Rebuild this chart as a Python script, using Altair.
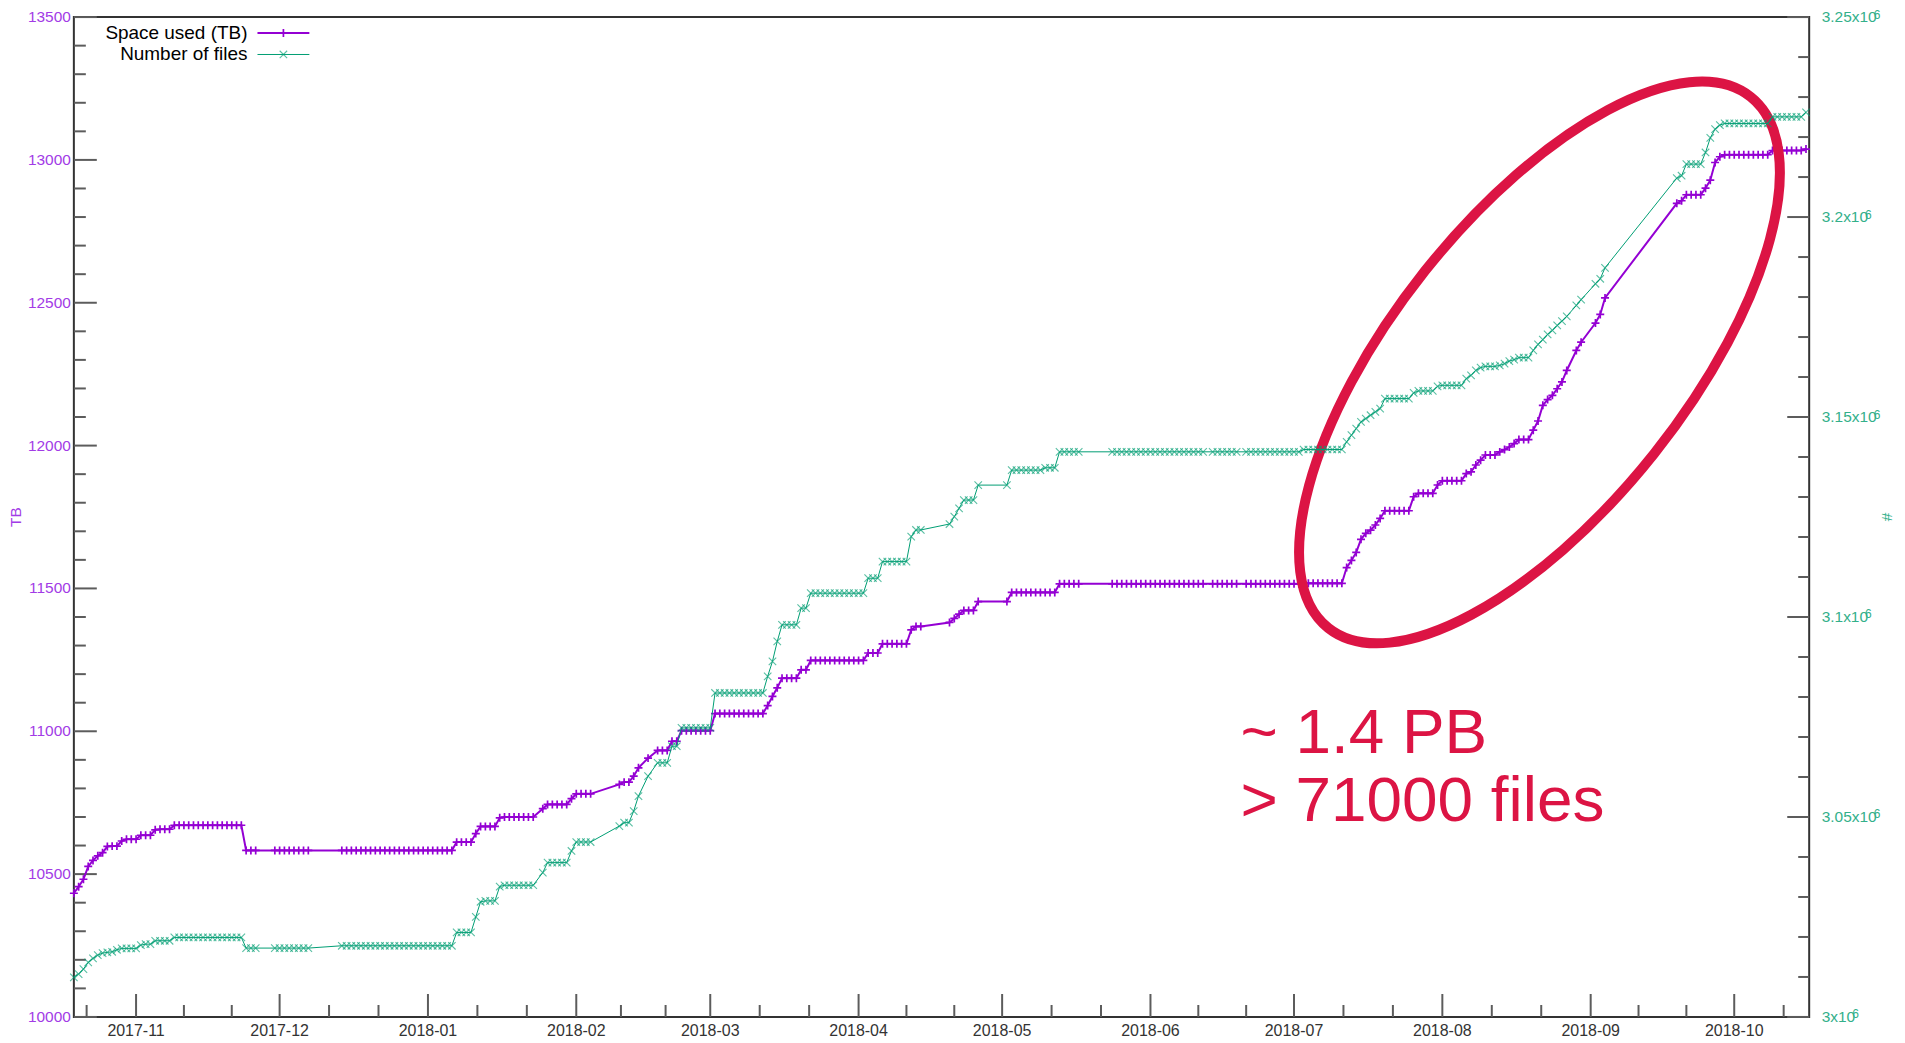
import altair as alt
import pandas as pd
from datetime import datetime, timedelta

# ---------------- data ----------------
START = datetime(2017, 10, 19)

# sample day, counted from 2017-10-19
days = [
    0, 1, 2, 3, 4, 5, 6, 7, 8, 9, 10, 11, 12, 13, 14, 15, 16, 17, 18, 19, 20,
    21, 22, 23, 24, 25, 26, 27, 28, 29, 30, 31, 32, 33, 34, 35,
    36, 37, 38, 42, 43, 44, 45, 46, 47, 48, 49,
    56, 57, 58, 59, 60, 61, 62, 63, 64, 65, 66, 67, 68, 69, 70, 71, 72, 73, 74, 75, 76, 77, 78, 79,
    80, 81, 82, 83, 84, 85, 86, 87, 88, 89, 90, 91, 92, 93, 94, 95, 96,
    98, 99, 100, 101, 102, 103, 104, 105, 106, 107, 108,
    114, 115, 116, 117, 118, 120, 122, 123, 124, 125, 126,
    127, 128, 129, 130, 131, 132, 133,
    134, 135, 136, 137, 138, 139, 140, 141, 142, 143, 144,
    145, 146, 147, 148, 149, 150, 151, 152, 153,
    154, 155, 156, 157, 158, 159, 160, 161, 162, 163, 164, 165,
    166, 167, 168, 169, 170, 171, 172, 173, 174,
    175, 176, 177, 183, 184, 185, 186, 187, 188, 189, 195,
    196, 197, 198, 199, 200, 201, 202, 203, 204, 205,
    206, 207, 208, 209, 210,
    217, 218, 219, 220, 221, 222, 223, 224, 225, 226, 227, 228, 229, 230, 231, 232, 233, 234, 235, 236,
    238, 239, 240, 241, 242, 243,
    245, 246, 247, 248, 249, 250, 251, 252, 253, 254, 255, 256,
    257, 258, 259, 260, 261, 262, 263, 264, 265,
    266, 267, 268, 269, 270, 271, 272, 273,
    274, 275, 276, 277, 278, 279,
    280, 281, 282, 283, 284, 285, 286, 287, 288, 289, 290,
    291, 292, 293, 294, 295, 296, 297, 298, 299, 300, 301, 302, 303, 304,
    305, 306, 307, 308, 309, 310, 311, 312, 314, 315, 318, 319, 320,
    335, 336, 337, 338, 339, 340, 341, 342, 343, 344,
    345, 346, 347, 348, 349, 350, 351, 352, 353, 354,
    355, 356, 357, 358, 359, 360, 361, 362,
]

# Space used (TB)
space_tb = [
    10433, 10456, 10482, 10527, 10548, 10564, 10575, 10597, 10598, 10598, 10616, 10622, 10622, 10622, 10636, 10636, 10636, 10655, 10657, 10657, 10657,
    10671, 10671, 10671, 10671, 10671, 10671, 10671, 10671, 10671, 10671, 10671, 10671, 10671, 10671, 10671,
    10583, 10583, 10583, 10583, 10583, 10583, 10583, 10583, 10583, 10583, 10583,
    10583, 10583, 10583, 10583, 10583, 10583, 10583, 10583, 10583, 10583, 10583, 10583, 10583, 10583, 10583, 10583, 10583, 10583, 10583, 10583, 10583, 10583, 10583, 10583,
    10612, 10612, 10612, 10612, 10642, 10667, 10667, 10667, 10667, 10697, 10700, 10700, 10700, 10700, 10700, 10700, 10700,
    10729, 10744, 10744, 10744, 10744, 10744, 10764, 10781, 10781, 10781, 10781,
    10814, 10822, 10822, 10843, 10872, 10906, 10933, 10933, 10933, 10965, 10965,
    11002, 11002, 11002, 11002, 11002, 11002, 11002,
    11062, 11062, 11062, 11062, 11062, 11062, 11062, 11062, 11062, 11062, 11062,
    11090, 11122, 11152, 11186, 11186, 11186, 11186, 11215, 11215,
    11248, 11248, 11248, 11248, 11248, 11248, 11248, 11248, 11248, 11248, 11248, 11248,
    11274, 11274, 11274, 11306, 11306, 11306, 11306, 11306, 11306,
    11355, 11367, 11367, 11381, 11395, 11410, 11423, 11423, 11423, 11454, 11454,
    11486, 11486, 11486, 11486, 11486, 11486, 11486, 11486, 11486, 11486,
    11516, 11516, 11516, 11516, 11516,
    11516, 11516, 11516, 11516, 11516, 11516, 11516, 11516, 11516, 11516, 11516, 11516, 11516, 11516, 11516, 11516, 11516, 11516, 11516, 11516,
    11516, 11516, 11516, 11516, 11516, 11516,
    11516, 11516, 11516, 11516, 11516, 11516, 11516, 11516, 11516, 11516, 11516, 11516,
    11518, 11518, 11518, 11518, 11518, 11518, 11518, 11518, 11518,
    11573, 11598, 11626, 11672, 11693, 11704, 11722, 11745,
    11772, 11772, 11772, 11772, 11772, 11772,
    11821, 11833, 11833, 11833, 11833, 11862, 11877, 11877, 11877, 11877, 11877,
    11902, 11908, 11932, 11949, 11967, 11967, 11967, 11978, 11986, 11995, 12007, 12021, 12021, 12021,
    12054, 12086, 12141, 12161, 12176, 12199, 12223, 12263, 12333, 12362, 12429, 12459, 12517,
    12848, 12857, 12878, 12878, 12878, 12878, 12901, 12929, 12991, 13011,
    13018, 13018, 13018, 13018, 13018, 13018, 13018, 13018, 13018, 13018,
    13033, 13033, 13033, 13033, 13033, 13033, 13033, 13038,
]

# Number of files
n_files = [
    3009900, 3010730, 3011980, 3013640, 3014640, 3015470, 3015970, 3016140, 3016300, 3016800, 3017140, 3017140, 3017140, 3017140, 3017960, 3018200, 3018200, 3019050, 3019050, 3019050, 3019050,
    3019880, 3019880, 3019880, 3019880, 3019880, 3019880, 3019880, 3019880, 3019880, 3019880, 3019880, 3019880, 3019880, 3019880, 3019880,
    3017220, 3017220, 3017220, 3017220, 3017220, 3017220, 3017220, 3017220, 3017220, 3017220, 3017220,
    3017800, 3017800, 3017800, 3017800, 3017800, 3017800, 3017800, 3017800, 3017800, 3017800, 3017800, 3017800, 3017800, 3017800, 3017800, 3017800, 3017800, 3017800, 3017800, 3017800, 3017800, 3017800, 3017800, 3017800,
    3021130, 3021130, 3021130, 3021130, 3025000, 3028800, 3029020, 3029020, 3029020, 3032600, 3032930, 3032930, 3032930, 3032930, 3032930, 3032930, 3032930,
    3036100, 3038590, 3038590, 3038590, 3038590, 3038590, 3041500, 3043740, 3043740, 3043740, 3043740,
    3047730, 3048580, 3048580, 3051480, 3055220, 3060210, 3063540, 3063540, 3063540, 3067690, 3067690,
    3072270, 3072270, 3072270, 3072270, 3072270, 3072270, 3072270,
    3081000, 3081000, 3081000, 3081000, 3081000, 3081000, 3081000, 3081000, 3081000, 3081000, 3081000,
    3085160, 3088900, 3093890, 3098050, 3098050, 3098050, 3098050, 3102220, 3102220,
    3105960, 3105960, 3105960, 3105960, 3105960, 3105960, 3105960, 3105960, 3105960, 3105960, 3105960, 3105960,
    3109700, 3109700, 3109700, 3113850, 3113850, 3113850, 3113850, 3113850, 3113850,
    3120100, 3121760, 3121760, 3123250, 3125080, 3127170, 3129240, 3129240, 3129240, 3132980, 3132980,
    3136730, 3136730, 3136730, 3136730, 3136730, 3136730, 3136730, 3137310, 3137310, 3137310,
    3141300, 3141300, 3141300, 3141300, 3141300,
    3141300, 3141300, 3141300, 3141300, 3141300, 3141300, 3141300, 3141300, 3141300, 3141300, 3141300, 3141300, 3141300, 3141300, 3141300, 3141300, 3141300, 3141300, 3141300, 3141300,
    3141300, 3141300, 3141300, 3141300, 3141300, 3141300,
    3141300, 3141300, 3141300, 3141300, 3141300, 3141300, 3141300, 3141300, 3141300, 3141300, 3141300, 3141300,
    3141880, 3141880, 3141880, 3141880, 3141880, 3141880, 3141880, 3141880, 3141880,
    3143780, 3145460, 3147120, 3148780, 3149620, 3150450, 3151300, 3152120,
    3154610, 3154610, 3154610, 3154610, 3154610, 3154610,
    3156020, 3156520, 3156520, 3156520, 3156520, 3157680, 3157930, 3157930, 3157930, 3157930, 3157930,
    3159600, 3160430, 3161680, 3162340, 3162670, 3162670, 3162670, 3162900, 3163340, 3164000, 3164340, 3164840, 3164840, 3164840,
    3166670, 3168170, 3169330, 3170660, 3171660, 3172910, 3173990, 3175160, 3177910, 3179330, 3183320, 3184570, 3187310,
    3209750, 3210330, 3213240, 3213240, 3213240, 3213240, 3216140, 3219800, 3222000, 3223000,
    3223400, 3223400, 3223400, 3223400, 3223400, 3223400, 3223400, 3223400, 3223400, 3223400,
    3225050, 3225050, 3225050, 3225050, 3225050, 3225050, 3225050, 3226200,
]

assert len(days) == len(space_tb) == len(n_files)

legend_labels = ["Space used (TB)", "Number of files"]
annotation_lines = ["~ 1.4 PB", "> 71000 files"]
left_title = "TB"
right_title = "#"

tb_major = [10000, 10500, 11000, 11500, 12000, 12500, 13000, 13500]
tb_minor = [v for v in range(10000, 13501, 100) if v % 500]
files_major = [3000000, 3050000, 3100000, 3150000, 3200000, 3250000]
files_major_mantissa = ["3", "3.05", "3.1", "3.15", "3.2", "3.25"]
files_exponent = "6"
files_minor = [v for v in range(3000000, 3250001, 10000) if v % 50000]
month_starts = [(2017, 11), (2017, 12), (2018, 1), (2018, 2), (2018, 3), (2018, 4),
                (2018, 5), (2018, 6), (2018, 7), (2018, 8), (2018, 9), (2018, 10)]

# ---------------- styling ----------------
W, H = 1739, 1002
FONT = "Liberation Sans"
FS = 15.5
PURPLE = "#9400d3"
PURPLE_TXT = "#a23be6"
GREEN = "#009e73"
GREEN_TXT = "#33b08a"
CRIMSON = "#dc1444"
TICK = "#5c5c5c"
PLUS = "M -1 0 L 1 0 M 0 -1 L 0 1"
CROSS = "M -1 -1 L 1 1 M -1 1 L 1 -1"
ELLIPSE = ("M 1 0 C 1 0.2387 0.5523 0.432 0 0.432 C -0.5523 0.432 -1 0.2387 -1 0 "
           "C -1 -0.2387 -0.5523 -0.432 0 -0.432 C 0.5523 -0.432 1 -0.2387 1 0 Z")
# Arial / Liberation Sans advance widths (em) for placing the exponent
ADV = {"0": .556, "1": .556, "2": .556, "3": .556, "5": .556, ".": .278, "x": .5}


def iso(dt):
    return dt.strftime("%Y-%m-%dT%H:%M:%S")


df = pd.DataFrame({
    "date": [iso(START + timedelta(days=d)) for d in days],
    "tb": space_tb,
    "files": n_files,
})

x_end = START + timedelta(days=362.7)
xscale = alt.Scale(domain=[
    alt.DateTime(year=START.year, month=START.month, date=START.day),
    alt.DateTime(year=x_end.year, month=x_end.month, date=x_end.day, hours=x_end.hour),
])
tb_scale = alt.Scale(domain=[10000, 13500], nice=False, zero=False)
files_scale = alt.Scale(domain=[3000000, 3250000], nice=False, zero=False)

# month major / third-of-month minor tick dates
major_dates = [datetime(y, m, 1) for y, m in month_starts]
bounds = [datetime(2017, 10, 1)] + major_dates + [datetime(2018, 11, 1)]
minor_dates = []
for a, b in zip(bounds[:-1], bounds[1:]):
    for k in (1, 2):
        t = a + (b - a) * k / 3
        if START <= t <= x_end:
            minor_dates.append(t)

X = alt.X("date:T", scale=xscale, axis=None)
YT = lambda f: alt.Y(f, type="quantitative", scale=tb_scale, axis=None)
YF = lambda f: alt.Y(f, type="quantitative", scale=files_scale, axis=None)

one = pd.DataFrame({"a": [0]})

# ---------------- left (TB) layer ----------------
tb_line = alt.Chart(df).mark_line(color=PURPLE, strokeWidth=2).encode(x=X, y=YT("tb"))
tb_pts = alt.Chart(df).mark_point(shape=PLUS, size=64, filled=False, color=PURPLE,
                                  strokeWidth=1.7, opacity=1).encode(x=X, y=YT("tb"))

tb_tick_major = alt.Chart(pd.DataFrame({"v": tb_major})).mark_rule(
    color=TICK, strokeWidth=2).encode(y=YT("v"), x=alt.value(0), x2=alt.value(23))
tb_tick_minor = alt.Chart(pd.DataFrame({"v": tb_minor})).mark_rule(
    color=TICK, strokeWidth=2).encode(y=YT("v"), x=alt.value(0), x2=alt.value(12))
tb_labels = alt.Chart(pd.DataFrame({"v": tb_major, "t": [str(v) for v in tb_major]})).mark_text(
    align="right", baseline="middle", font=FONT, fontSize=FS, color=PURPLE_TXT).encode(
    y=YT("v"), x=alt.value(-3), text="t:N")
tb_title = alt.Chart(one).mark_text(
    align="center", baseline="middle", font=FONT, fontSize=FS, color=PURPLE_TXT, angle=270).encode(
    x=alt.value(-58), y=alt.value(H / 2), text=alt.value(left_title))

# annotation text + ellipse (placed in data units)
ann_day = 243.8
ann_df = pd.DataFrame({
    "date": [iso(START + timedelta(days=ann_day))] * 2,
    "tb": [10923, 10686],
    "label": annotation_lines,
})
ann_text = alt.Chart(ann_df).mark_text(
    align="left", baseline="alphabetic", font=FONT, fontSize=64, color=CRIMSON).encode(
    x=X, y=YT("tb"), text="label:N")

ell_df = pd.DataFrame({"date": [iso(START + timedelta(days=306.3))], "tb": [12291]})
ellipse = alt.Chart(ell_df).mark_point(
    shape=ELLIPSE, size=462400, filled=False, stroke=CRIMSON, strokeWidth=10,
    opacity=1, angle=308.5).encode(x=X, y=YT("tb"))

tb_layer = alt.layer(tb_tick_major, tb_tick_minor, tb_labels, tb_line, tb_pts, ann_text, ellipse)

# ---------------- right (files) layer ----------------
f_line = alt.Chart(df).mark_line(color=GREEN, strokeWidth=1).encode(x=X, y=YF("files"))
f_pts = alt.Chart(df).mark_point(shape=CROSS, size=56, filled=False, color=GREEN,
                                 strokeWidth=1.1, opacity=0.65).encode(x=X, y=YF("files"))
f_tick_major = alt.Chart(pd.DataFrame({"v": files_major})).mark_rule(
    color=TICK, strokeWidth=2).encode(y=YF("v"), x=alt.value(W), x2=alt.value(W - 22))
f_tick_minor = alt.Chart(pd.DataFrame({"v": files_minor})).mark_rule(
    color=TICK, strokeWidth=2).encode(y=YF("v"), x=alt.value(W), x2=alt.value(W - 11))

f_label_layers = []
for v, mant in zip(files_major, files_major_mantissa):
    base = mant + "x10"
    wpx = sum(ADV[c] for c in base) * FS
    lab_df = pd.DataFrame({"v": [v], "t": [base], "e": [files_exponent]})
    f_label_layers.append(alt.Chart(lab_df).mark_text(
        align="left", baseline="middle", font=FONT, fontSize=FS, color=GREEN_TXT).encode(
        y=YF("v"), x=alt.value(W + 12.5), text="t:N"))
    f_label_layers.append(alt.Chart(lab_df).mark_text(
        align="left", baseline="middle", font=FONT, fontSize=12, color=GREEN_TXT,
        dx=wpx - 3, dy=-2.5).encode(
        y=YF("v"), x=alt.value(W + 12.5), text="e:N"))

f_title = alt.Chart(one).mark_text(
    align="center", baseline="middle", font=FONT, fontSize=FS, color=GREEN_TXT, angle=90).encode(
    x=alt.value(W + 78), y=alt.value(H / 2), text=alt.value(right_title))

f_layer = alt.layer(f_tick_major, f_tick_minor, *f_label_layers, f_line, f_pts)

# ---------------- x ticks and labels ----------------
x_major = alt.Chart(pd.DataFrame({"date": [iso(d) for d in major_dates]})).mark_rule(
    color=TICK, strokeWidth=2).encode(x=X, y=alt.value(H), y2=alt.value(H - 23))
x_minor = alt.Chart(pd.DataFrame({"date": [iso(d) for d in minor_dates]})).mark_rule(
    color=TICK, strokeWidth=2).encode(x=X, y=alt.value(H), y2=alt.value(H - 12))
x_labels = alt.Chart(pd.DataFrame({
    "date": [iso(d) for d in major_dates],
    "t": [d.strftime("%Y-%m") for d in major_dates],
})).mark_text(align="center", baseline="top", font=FONT, fontSize=16, color="#333333").encode(
    x=X, y=alt.value(H + 6), text="t:N")

# ---------------- key (gnuplot style: text left, sample right) ----------------
key_layers = []
for label, color, shape, size, sw, lw, op, ky in [
    (legend_labels[0], PURPLE, PLUS, 64, 1.7, 2, 1, 16),
    (legend_labels[1], GREEN, CROSS, 56, 1.1, 1, 0.65, 37.5),
]:
    key_layers.append(alt.Chart(one).mark_text(
        align="right", baseline="middle", font=FONT, fontSize=19, color="#000000").encode(
        x=alt.value(174), y=alt.value(ky), text=alt.value(label)))
    key_layers.append(alt.Chart(one).mark_rule(color=color, strokeWidth=lw).encode(
        x=alt.value(184), x2=alt.value(236), y=alt.value(ky)))
    key_layers.append(alt.Chart(one).mark_point(
        shape=shape, size=size, filled=False, color=color, strokeWidth=sw, opacity=op).encode(
        x=alt.value(210), y=alt.value(ky)))

chart = alt.layer(
    tb_layer, f_layer, x_major, x_minor, x_labels, tb_title, f_title, *key_layers
).resolve_scale(
    y="independent"
).properties(
    width=W, height=H, autosize="none",
    padding={"left": 66, "top": 8, "right": 88, "bottom": 20},
    background="#ffffff",
).configure_view(
    stroke="#333333", strokeWidth=2,
)

chart.save("out.html", embed_options={"renderer": "svg", "actions": False})
